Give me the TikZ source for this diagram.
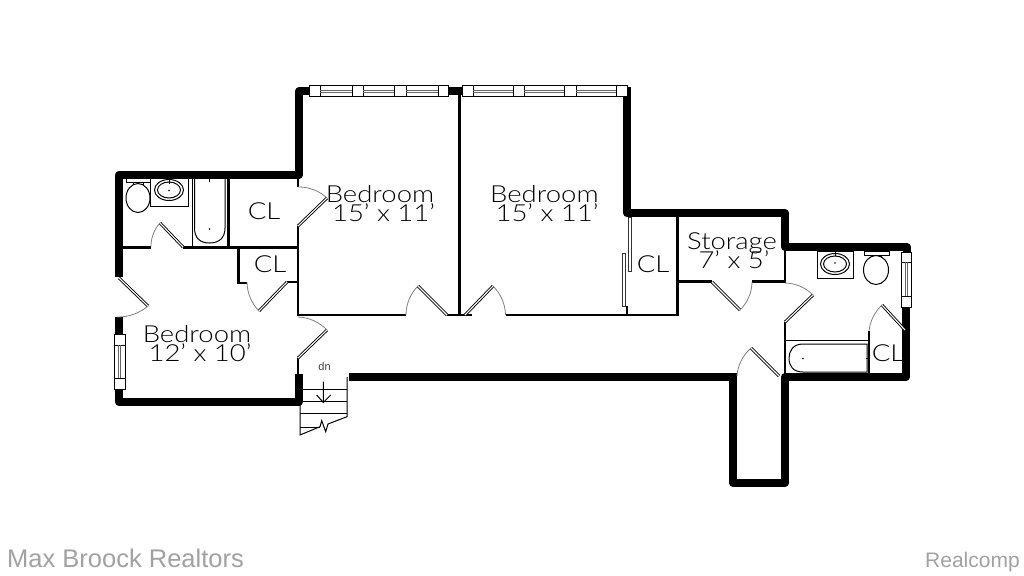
\documentclass[tikz,border=0pt]{standalone}
\usepackage{fontspec}
\setmainfont{Liberation Sans}
\newfontfamily\cadfont[FakeStretch=1.17]{Lato Light}
\usetikzlibrary{calc}
\tikzset{
  wall/.style={line width=8pt,line join=round,black},
  thinwall/.style={line width=2.6pt,black},
  fixture/.style={line width=1pt,black},
  leaf/.style={line width=0.9pt,double=white,double distance=1.1pt,black},
  slider/.style={line width=0.9pt,draw=black!80,fill=white},
  swing/.style={line width=0.8pt,draw=black!50},
  pane/.style={line width=0.8pt,draw=black!60},
  frame/.style={line width=1pt,draw=black,fill=white},
  roomlabel/.style={font=\cadfont\fontsize{23.5}{24}\selectfont,inner sep=0pt,text=black,anchor=base},
  stairline/.style={line width=1pt,black},
  dnlabel/.style={font=\fontsize{11}{12}\selectfont,inner sep=0pt,text=black!75},
  footer/.style={inner sep=0pt,anchor=base west,text=black!37},
}
% hinge, tip of the leaf, free end of the swing (45 degree swing)
\newcommand{\doorway}[3]{%
  \draw[leaf] #1 -- #2;
  \draw[swing] #2 .. controls ($#2+0.375*#3-0.375*#1-0.265*#2+0.265*#1$) and ($#3+0.375*#2-0.375*#1-0.265*#3+0.265*#1$) .. #3;
}
\begin{document}
\begin{tikzpicture}[x=1pt,y=-1pt]
\useasboundingbox[fill=white] (0,0) rectangle (1024,575);

% outer walls
\draw[wall] (119,277) -- (119,175) -- (299,175) -- (299,91.5) -- (309,91.5);
\draw[wall] (448,91.5) -- (462,91.5);
\draw[wall] (627,87) -- (627,213) -- (785,213) -- (785,247) -- (907,247) -- (907,252);
\draw[wall] (349,377) -- (737,377);
\draw[wall] (906,306) -- (906,377) -- (785,377) -- (785,483) -- (733,483) -- (733,377);
\draw[wall] (119,317) -- (119,335);
\draw[wall] (119,389) -- (119,402) -- (298.5,402) -- (298.5,374);

% thin partitions
\draw[thinwall] (459.5,91) -- (459.5,315);
\draw[thinwall] (298,178) -- (298,187);
\draw[thinwall] (298,226) -- (298,316);
\draw[thinwall] (298,358) -- (298,376);
\draw[thinwall] (297,315) -- (406,315);
\draw[thinwall] (447,315) -- (472,315);
\draw[thinwall] (505.5,315) -- (678.5,315);
\draw[thinwall] (627,306) -- (627,315);
\draw[thinwall] (677.5,213) -- (677.5,315);
\draw[thinwall] (677,281.5) -- (712,281.5);
\draw[thinwall] (752,281.5) -- (785,281.5);
\draw[thinwall] (785,247) -- (785,283);
\draw[thinwall] (785,322) -- (785,377);
\draw[thinwall] (869,331) -- (869,374);
\draw[thinwall] (119,247.5) -- (151,247.5);
\draw[thinwall] (183,247.5) -- (298,247.5);
\draw[thinwall] (228.5,178) -- (228.5,247);
\draw[thinwall] (238.5,247) -- (238.5,283) -- (247,283);
\draw[thinwall] (287,282) -- (298,282);

% doors
\doorway{(119,278)}{(148,306)}{(117,317)}
\doorway{(183,247)}{(160,223)}{(151,247)}
\doorway{(298,226)}{(327,198)}{(298,187)}
\doorway{(287,282)}{(259,311)}{(247,282)}
\doorway{(298,358)}{(327,330)}{(298,317)}
\doorway{(447,315)}{(418,286)}{(406,315)}
\doorway{(465,315)}{(493,286)}{(505.5,315)}
\doorway{(712,282)}{(740,310)}{(752,282)}
\doorway{(785,322)}{(813,295)}{(785,283)}
\doorway{(779,376)}{(751,348)}{(737,376)}
\doorway{(905,330)}{(882,305)}{(869,331)}

% closet sliders
\draw[slider] (628.6,217) rectangle (631.2,271);
\draw[slider] (622.8,253) rectangle (625.4,306);

% windows
\draw[frame] (309,86) rectangle (448,97);
\foreach \a/\b in {320/352,363/394,406/438}{
  \draw[fixture] (\a,86) -- (\a,97) (\b,86) -- (\b,97);
  \draw[pane] (\a,90.5) -- (\b,90.5) (\a,92.7) -- (\b,92.7);
}
\draw[frame] (462,86) rectangle (627,97);
\foreach \a/\b in {473/513,524/564,576/616}{
  \draw[fixture] (\a,86) -- (\a,97) (\b,86) -- (\b,97);
  \draw[pane] (\a,90.5) -- (\b,90.5) (\a,92.7) -- (\b,92.7);
}
\draw[frame] (114,334) rectangle (125,389);
\draw[fixture] (114,345) -- (125,345) (114,378) -- (125,378);
\draw[pane] (118.3,345) -- (118.3,378) (120.7,345) -- (120.7,378);
\draw[frame] (901,252) rectangle (911,307);
\draw[fixture] (901,262) -- (911,262) (901,296) -- (911,296);
\draw[pane] (905,262) -- (905,296) (907,262) -- (907,296);

% left bath fixtures
\draw[fixture] (126,178) rectangle (150,182);
\draw[fixture] (133,182) rectangle (143,188);
\draw[fixture,fill=white] (138,198) ellipse [x radius=12,y radius=14.5];
\draw[fixture] (150,178) -- (150,206) -- (188,206) -- (188,178);
\draw[fixture] (169,190) ellipse [x radius=14.5,y radius=10.5];
\draw[fixture] (169,190) ellipse [x radius=11.5,y radius=8];
\fill (169,190.5) circle (0.9);
\draw[fixture] (169,179) -- (169,184);
\draw[fixture] (192,178) -- (192,247);
\draw[fixture] (194.5,178) -- (194.5,228) .. controls (194.5,238) and (200,243) .. (209.5,243) .. controls (219,243) and (225,238) .. (225,228) -- (225,178);
\fill (209.5,229) circle (0.9);
\draw[fixture] (209.5,178) -- (209.5,182);

% right bath fixtures
\draw[fixture] (817,251) rectangle (853,278);
\draw[fixture] (835,264) ellipse [x radius=14.5,y radius=10.5];
\draw[fixture] (835,264) ellipse [x radius=11.5,y radius=8];
\fill (835,263) circle (0.9);
\draw[fixture] (835,251) -- (835,256);
\draw[fixture] (864,251) rectangle (889,255);
\draw[fixture] (872,255) rectangle (881,260);
\draw[fixture,fill=white] (876,270) ellipse [x radius=12.5,y radius=14.5];
\draw[fixture] (786,340.5) -- (868,340.5);
\draw[fixture] (867,344) -- (803,344) .. controls (793,344) and (789,351) .. (789,358) .. controls (789,366) and (793,372) .. (803,372) -- (867,372) -- cycle;
\fill (803,358.5) circle (0.9);
\draw[fixture] (866,358.5) -- (870,358.5);

% stairs
\draw[stairline] (300,389) -- (347,389) (300,401.5) -- (347,401.5) (300,413) -- (347,413);
\draw[stairline] (347,377) -- (347,416.7) -- (328,424) -- (325.7,431.7) -- (321.7,420.7) -- (320,426.7) -- (300,435) -- (300,389);
\draw[stairline] (300,427) -- (320,427);
\draw[stairline] (323.3,381.5) -- (323.3,402.5) (316.7,395) -- (323.3,402.5) -- (330.7,395);
\node[dnlabel] (dn) at (324.5,367) {dn};

% labels
\node[roomlabel] (bedA) at (380,202.3) {Bedroom};
\node[roomlabel] (bedAsize) at (383.5,221.7) {15’ x 11’};
\node[roomlabel] (bedB) at (544.4,202.3) {Bedroom};
\node[roomlabel] (bedBsize) at (547,221.7) {15’ x 11’};
\node[roomlabel] (bedC) at (197,342.7) {Bedroom};
\node[roomlabel] (bedCsize) at (200,361.7) {12’ x 10’};
\node[roomlabel] (stor) at (732,249.3) {Storage};
\node[roomlabel] (storsize) at (734,268.3) {7’ x 5’};
\node[roomlabel] (clA) at (264,219.5) {CL};
\node[roomlabel] (clB) at (270,272.7) {CL};
\node[roomlabel] (clC) at (653,272.3) {CL};
\node[roomlabel] (clD) at (888,361.7) {CL};

% footer
\node[footer,font=\fontsize{25.5}{26}\selectfont] (brok) at (7,567) {Max Broock Realtors};
\node[footer,font=\fontsize{21}{22}\selectfont] (rcmp) at (925,567.5) {Realcomp};
\end{tikzpicture}
\end{document}
